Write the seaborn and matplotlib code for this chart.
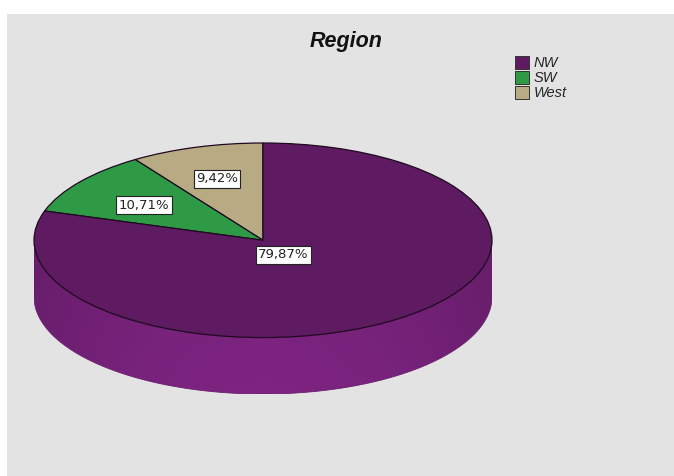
import numpy as np
import matplotlib
matplotlib.use("Agg")
import matplotlib.pyplot as plt
import matplotlib.colors as mcolors
from matplotlib.patches import Patch, Rectangle, Polygon
import seaborn as sns

# Share of cases per region (drawn counter-clockwise from 12 o'clock)
regions = ["West", "SW", "NW"]
shares = [9.42, 10.71, 79.87]
labels = ["9,42%", "10,71%", "79,87%"]
legend_order = ["NW", "SW", "West"]
palette = {"NW": "#5e1b61", "SW": "#2f9a45", "West": "#b8ab84"}

sns.set_theme(style="white")
plt.rcParams["font.family"] = ["Liberation Sans", "DejaVu Sans"]

W, H = 674, 476
fig = plt.figure(figsize=(W / 100, H / 100), dpi=100)
fig.patch.set_facecolor("white")
fig.patches.append(Rectangle((7 / W, 0), 1 - 7 / W, 1 - 14 / H,
                             transform=fig.transFigure, facecolor="#e3e3e3",
                             edgecolor="none", zorder=-5))

# Pie axes: squashed so the unit circle becomes the tilted top face
depth = 0.58
ax = fig.add_axes([34 / W, (476 - 394) / H, 458 / W, 251 / H])
ax.patch.set_alpha(0)

# Cylinder wall on the front half, shaded by angle and coloured by the slice above
bounds = np.cumsum([0] + shares) / 100 * 360 + 90
nx, ny = 400, 60
xs = np.linspace(-1, 1, nx)
ys = np.linspace(0, 1, ny)
ang = (360 - np.degrees(np.arccos(xs)) - 90) % 360 + 90
idx = np.clip(np.searchsorted(bounds, ang, side="right") - 1, 0, len(regions) - 1)
base = np.array([mcolors.to_rgb(palette[regions[i]]) for i in idx])
shade_x = 1.10 + 0.16 * (1 - xs ** 2)
shade_y = 1.0 + 0.06 * ys
img = np.clip(base[None, :, :] * shade_x[None, :, None] * shade_y[:, None, None], 0, 1)
tt = np.radians(np.linspace(180, 360, 200))
side_pts = np.vstack([np.column_stack([np.cos(tt), np.sin(tt)]),
                      np.column_stack([np.cos(tt[::-1]), np.sin(tt[::-1]) - depth])])
side = Polygon(side_pts, closed=True, facecolor="none", edgecolor="#6a1f6e",
               linewidth=0.6, zorder=2)
ax.add_patch(side)
im = ax.imshow(img, extent=(-1, 1, -1 - depth, 0), origin="upper",
               aspect="auto", interpolation="bilinear", zorder=1)
im.set_clip_path(side)

wedges, _ = ax.pie(shares, colors=[palette[r] for r in regions],
                   startangle=90, counterclock=True, radius=1,
                   wedgeprops=dict(edgecolor="#1e0a20", linewidth=0.9))
for w in wedges:
    w.set_zorder(3)
ax.set_aspect("auto")
ax.set_xlim(-1, 1)
ax.set_ylim(-1 - depth, 1)
ax.axis("off")

# Percentage labels placed along each slice's mid-angle
radial = {"West": 0.69, "SW": 0.65, "NW": 0.15}
for w, reg, lab in zip(wedges, regions, labels):
    mid = np.radians(0.5 * (w.theta1 + w.theta2))
    r = radial[reg]
    ax.text(r * np.cos(mid), r * np.sin(mid) - 0.03, lab, ha="center", va="center",
            fontsize=9.5, family="DejaVu Sans", color="#222222", zorder=5,
            bbox=dict(boxstyle="square,pad=0.18", facecolor="white",
                      edgecolor="#222222", linewidth=0.8))

fig.text(346 / W, 1 - 41 / H, "Region", ha="center", va="center",
         fontsize=15.5, fontweight="bold", fontstyle="italic", color="#111111")

handles = [Patch(facecolor=palette[r], edgecolor="#333333", linewidth=0.7)
           for r in legend_order]
leg = fig.legend(handles, legend_order, loc="upper left",
                 bbox_to_anchor=(515 / W, 1 - 56 / H), frameon=False,
                 handlelength=0.95, handleheight=0.95, handletextpad=0.35,
                 labelspacing=0.05, borderpad=0, borderaxespad=0,
                 prop=dict(size=10.5, style="italic"))

fig.savefig("out.png", dpi=100, facecolor=fig.get_facecolor())
